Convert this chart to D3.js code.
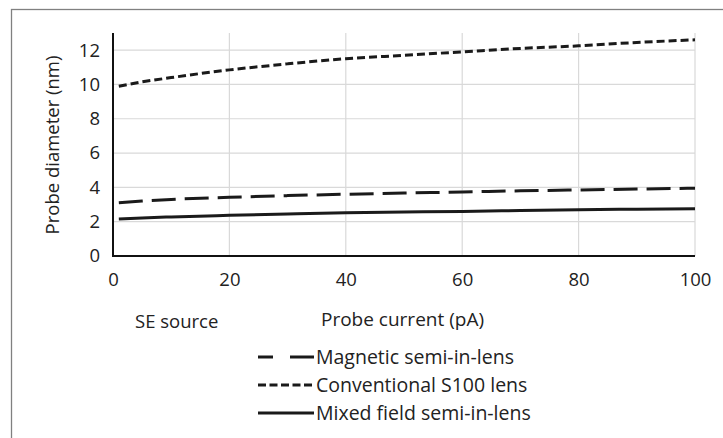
<!DOCTYPE html>
<html>
<head>
<meta charset="utf-8">
<script src="https://cdn.jsdelivr.net/npm/d3@7"></script>
<style>
  body { margin: 0; background: #fff; }
  svg { display: block; font-family: "Open Sans", sans-serif; }
</style>
</head>
<body>
<svg id="chart" width="723" height="438"></svg>
<script>
// probe current (pA)
var current = [1, 5, 10, 20, 30, 40, 50, 60, 70, 80, 90, 100];
// probe diameter (nm)
var magnetic = [3.1, 3.2, 3.3, 3.42, 3.52, 3.6, 3.67, 3.73, 3.8, 3.85, 3.9, 3.95];
var conventional = [9.9, 10.15, 10.4, 10.85, 11.2, 11.5, 11.7, 11.9, 12.1, 12.25, 12.45, 12.6];
var mixed = [2.15, 2.22, 2.28, 2.37, 2.45, 2.52, 2.56, 2.6, 2.65, 2.7, 2.73, 2.76];
var seriesNames = ['Magnetic semi-in-lens', 'Conventional S100 lens', 'Mixed field semi-in-lens'];
var xTicks = [0, 20, 40, 60, 80, 100];
var yTicks = [0, 2, 4, 6, 8, 10, 12];

var series = [
  { name: seriesNames[0], values: magnetic, dash: '24,9', legendDash: '15,17,24' },
  { name: seriesNames[1], values: conventional, dash: '8,4', legendDash: '8,3.5' },
  { name: seriesNames[2], values: mixed, dash: null, legendDash: null }
];

var svg = d3.select('#chart');
var plotL = 113, plotR = 695, plotT = 33, plotB = 256;
var fs = 18.5;

var x = d3.scaleLinear().domain([0, 100]).range([plotL, plotR]);
var y = d3.scaleLinear().domain([0, 13]).range([plotB, plotT]);

// outer frame, runs off the right and bottom edges
svg.append('rect')
  .attr('x', 11.5).attr('y', 9.5)
  .attr('width', 760).attr('height', 480)
  .attr('fill', 'none')
  .attr('stroke', '#808080')
  .attr('stroke-width', 1.3);

// grid
svg.append('g').selectAll('line')
  .data(yTicks.filter(function (d) { return d > 0; }))
  .enter().append('line')
  .attr('x1', plotL).attr('x2', plotR)
  .attr('y1', function (d) { return y(d); })
  .attr('y2', function (d) { return y(d); })
  .attr('stroke', '#d9d9d9').attr('stroke-width', 1.2);

svg.append('g').selectAll('line')
  .data(xTicks.filter(function (d) { return d > 0; }))
  .enter().append('line')
  .attr('y1', plotT).attr('y2', plotB)
  .attr('x1', function (d) { return x(d); })
  .attr('x2', function (d) { return x(d); })
  .attr('stroke', '#d9d9d9').attr('stroke-width', 1.2);

// axes
var yAxis = d3.axisLeft(y).tickValues(yTicks).tickSize(0).tickPadding(13);
svg.append('g')
  .attr('transform', 'translate(' + plotL + ',0)')
  .call(yAxis)
  .call(function (g) {
    g.select('.domain').remove();
    g.selectAll('text').attr('font-size', fs).attr('fill', '#222')
      .attr('font-family', '"Open Sans", sans-serif');
  });

var xAxis = d3.axisBottom(x).tickValues(xTicks).tickSize(0).tickPadding(17);
svg.append('g')
  .attr('transform', 'translate(0,' + plotB + ')')
  .call(xAxis)
  .call(function (g) {
    g.select('.domain').remove();
    g.selectAll('text').attr('font-size', fs).attr('fill', '#222')
      .attr('font-family', '"Open Sans", sans-serif');
  });

svg.append('line')
  .attr('x1', plotL).attr('x2', plotL).attr('y1', plotT).attr('y2', plotB + 1)
  .attr('stroke', '#111').attr('stroke-width', 2);
svg.append('line')
  .attr('x1', plotL).attr('x2', plotR).attr('y1', plotB).attr('y2', plotB)
  .attr('stroke', '#111').attr('stroke-width', 2);

// lines
var line = d3.line()
  .x(function (d) { return x(d[0]); })
  .y(function (d) { return y(d[1]); })
  .curve(d3.curveMonotoneX);

series.forEach(function (s) {
  svg.append('path')
    .datum(current.map(function (c, i) { return [c, s.values[i]]; }))
    .attr('d', line)
    .attr('fill', 'none')
    .attr('stroke', '#1a1a1a')
    .attr('stroke-width', 3)
    .attr('stroke-dasharray', s.dash);
});

// titles
svg.append('text')
  .attr('transform', 'translate(59,145) rotate(-90)')
  .attr('text-anchor', 'middle')
  .attr('font-size', fs).attr('fill', '#222')
  .text('Probe diameter (nm)');

svg.append('text')
  .attr('x', 135).attr('y', 328)
  .attr('font-size', fs).attr('fill', '#222')
  .text('SE source');

svg.append('text')
  .attr('x', 321).attr('y', 326)
  .attr('font-size', 19).attr('fill', '#222')
  .text('Probe current (pA)');

// legend
var legend = svg.append('g');
series.forEach(function (s, i) {
  var ly = 357 + i * 28;
  legend.append('line')
    .attr('x1', 258).attr('x2', 314).attr('y1', ly).attr('y2', ly)
    .attr('stroke', '#1a1a1a').attr('stroke-width', 3)
    .attr('stroke-dasharray', s.legendDash);
  legend.append('text')
    .attr('x', 316).attr('y', ly)
    .attr('dy', '0.35em')
    .attr('font-size', 19.5).attr('fill', '#222')
    .text(s.name);
});
</script>
</body>
</html>
